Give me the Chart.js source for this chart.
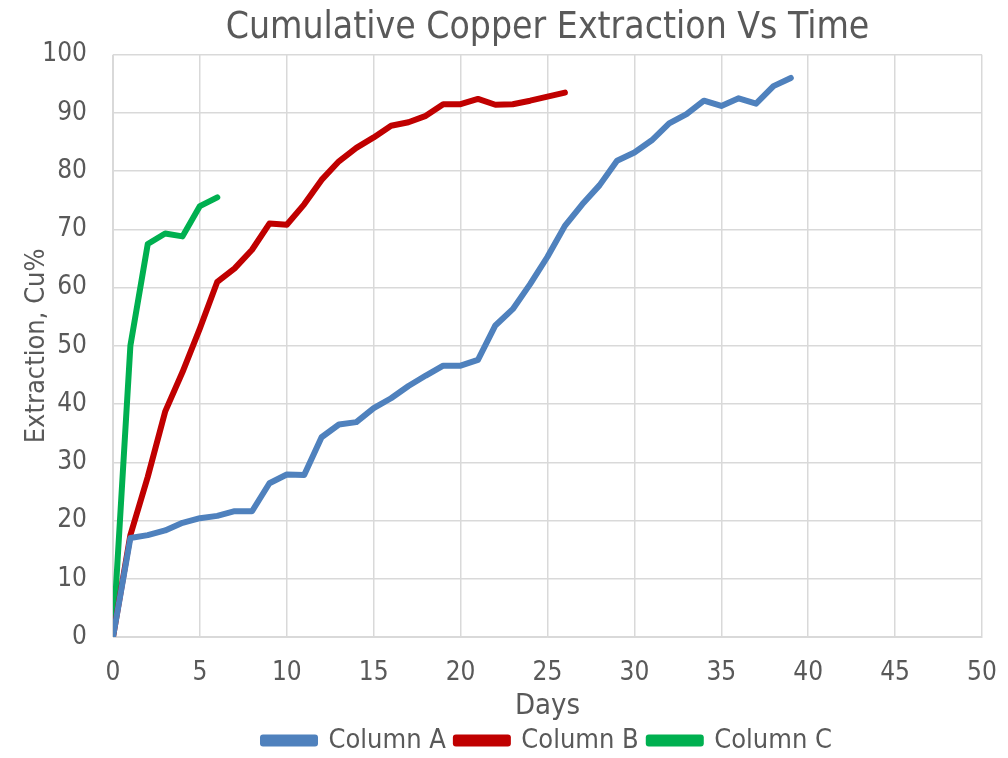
<!DOCTYPE html>
<html>
<head>
<meta charset="utf-8">
<script src="https://cdn.jsdelivr.net/npm/chart.js@4.4.0/dist/chart.umd.min.js"></script>
<style>
  html, body { margin: 0; padding: 0; background: #fff; }
  #wrap { width: 1008px; height: 758px; }
</style>
</head>
<body>
<div id="wrap"><canvas id="copperChart"></canvas></div>
<script>
const daysA = [0,1,2,3,4,5,6,7,8,9,10,11,12,13,14,15,16,17,18,19,20,21,22,23,24,25,26,27,28,29,30,31,32,33,34,35,36,37,38,39];
const columnA = [0,17,17.5,18.3,19.6,20.4,20.8,21.6,21.6,26.4,27.9,27.8,34.3,36.5,36.9,39.3,41,43.1,44.9,46.6,46.6,47.6,53.5,56.3,60.6,65.3,70.6,74.3,77.6,81.8,83.2,85.3,88.2,89.8,92.1,91.2,92.5,91.6,94.6,96];
const daysB = [0,1,2,3,4,5,6,7,8,9,10,11,12,13,14,15,16,17,18,19,20,21,22,23,24,25,26];
const columnB = [0,17.5,27.5,38.7,45.5,53,61,63.3,66.5,71,70.8,74.3,78.5,81.7,84,85.8,87.8,88.4,89.5,91.5,91.5,92.4,91.4,91.5,92.1,92.8,93.5];
const daysC = [0,1,2,3,4,5,6];
const columnC = [0,50,67.5,69.3,68.8,74,75.5];

const xTicks = [0,5,10,15,20,25,30,35,40,45,50];

const FONT = "'Liberation Sans Narrow', 'DejaVu Sans Condensed', sans-serif";
const GREY = '#595959';

function pts(xs, ys) {
  return xs.map((x, i) => ({ x: x, y: ys[i] }));
}

window.addEventListener("DOMContentLoaded", () => {
  const ctx = document.getElementById('copperChart').getContext('2d');
  new Chart(ctx, {
    type: 'scatter',
    data: {
      datasets: [
        { label: 'Column A', data: pts(daysA, columnA), borderColor: '#4f81bd', backgroundColor: '#4f81bd' },
        { label: 'Column B', data: pts(daysB, columnB), borderColor: '#c00000', backgroundColor: '#c00000' },
        { label: 'Column C', data: pts(daysC, columnC), borderColor: '#00b050', backgroundColor: '#00b050' }
      ]
    },
    options: {
      responsive: true,
      maintainAspectRatio: false,
      animation: false,
      showLine: true,
      elements: {
        point: { radius: 0, hoverRadius: 0 },
        line: { borderWidth: 6, tension: 0, borderJoinStyle: 'round', borderCapStyle: 'round' }
      },
      layout: { padding: { left: 14, right: 26, top: 4, bottom: -6 } },
      plugins: {
        title: {
          display: true,
          fullSize: false,
          text: 'Cumulative Copper Extraction Vs Time',
          color: GREY,
          font: { family: FONT, size: 37, weight: 'normal', lineHeight: 1.1 },
          padding: { top: 4, bottom: 6 }
        },
        legend: {
          position: 'bottom',
          fullSize: false,
          labels: {
            color: GREY,
            font: { family: FONT, size: 27 },
            boxWidth: 52,
            boxHeight: 6,
            padding: 10
          }
        },
        tooltip: { enabled: false }
      },
      scales: {
        x: {
          type: 'linear',
          min: 0,
          max: 50,
          afterBuildTicks: axis => { axis.ticks = xTicks.map(v => ({ value: v })); },
          afterFit: axis => { axis.height = 80; axis.paddingRight = 0; },
          ticks: { color: GREY, font: { family: FONT, size: 26, lineHeight: 1 }, padding: 23 },
          grid: { color: '#d9d9d9', lineWidth: 1.5, drawTicks: false },
          border: { color: '#d9d9d9' },
          title: { display: true, text: 'Days', color: GREY, font: { family: FONT, size: 29, lineHeight: 1 }, padding: { top: 0, bottom: -4 } }
        },
        y: {
          min: 0,
          max: 100,
          afterFit: axis => { axis.width = 99; },
          ticks: { stepSize: 10, color: GREY, font: { family: FONT, size: 26 }, padding: 26 },
          grid: { color: '#d9d9d9', lineWidth: 1.5, drawTicks: false },
          border: { color: '#d9d9d9' },
          title: { display: true, text: 'Extraction, Cu%', color: GREY, font: { family: FONT, size: 27 }, padding: { top: 7, bottom: 0 } }
        }
      }
    }
  });
});
</script>
</body>
</html>
